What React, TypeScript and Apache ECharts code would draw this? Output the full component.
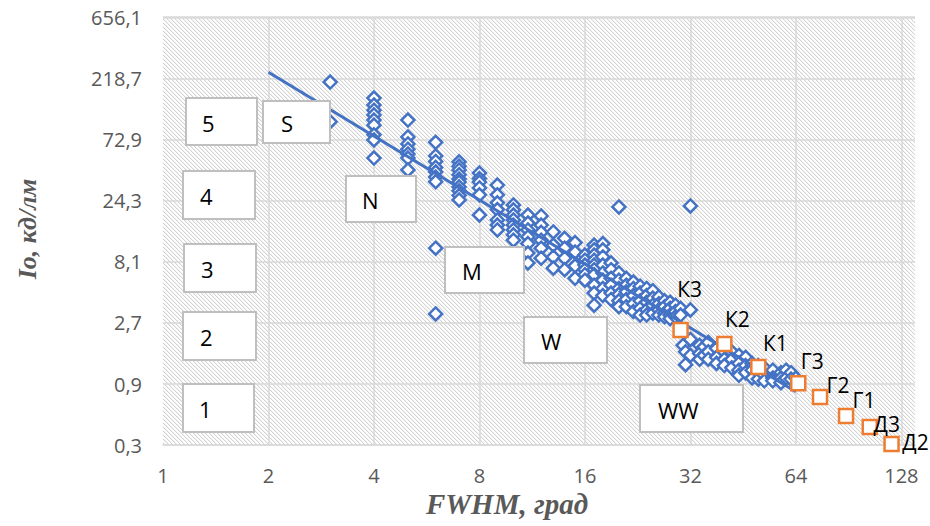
import React, { useEffect, useRef } from "react";
import * as echarts from "echarts";

// Axis bounds (log axes)
const X_MIN = 1;
const X_MAX = 140;
const Y_MIN = 0.3;
const Y_MAX = 656.1;
const yTickLabels = ["0,3", "0,9", "2,7", "8,1", "24,3", "72,9", "218,7", "656,1"];
const xTickLabels = ["1", "2", "4", "8", "16", "32", "64", "128"];

// Blue diamonds [FWHM, Io]
const zoneS: [number, number][] = [
  [3, 204], [3, 100], [4, 153], [4, 135], [4, 123], [4, 113], [4, 103], [4, 94], [4, 79], [4, 72], [4, 52],
];
const zoneN: [number, number][] = [
  [5, 103], [5, 76], [5, 67], [5, 61], [5, 56], [5, 52], [5, 42],
  [6, 69], [6, 54], [6, 49], [6, 44], [6, 40.5], [6, 37], [6, 34], [6, 10.3], [6, 3.16],
  [7, 48.6], [7, 45], [7, 42], [7, 38.6], [7, 35.7], [7, 33.8], [7, 31], [7, 28.9], [7, 26.5], [7, 24.5],
  [8, 39.7], [8, 36], [8, 33.8], [8, 30.4], [8, 26.9], [8, 18.7],
];
const zoneM: [number, number][] = [
  [9, 32], [9, 26.9], [9, 23.3], [9, 20.6], [9, 17.1], [9, 15.6], [9, 14.3],
  [10, 22.4], [10, 20.5], [10, 18.7], [10, 17.1], [10, 15.6], [10, 14.3], [10, 13.1], [10, 11.9],
  [11, 18.7], [11, 16.2], [11, 14.3], [11, 12.6], [11, 11.2], [11, 9.45], [11, 7.9],
  [12, 18.4], [12, 15.6], [12, 13.7], [12, 11.9], [12, 10.3], [12, 8.6],
  [13, 13.8], [13, 10.9], [13, 8.8], [13, 7.2],
  [14, 12.3], [14, 10.3], [14, 8.6], [14, 7.0],
  [15, 11.4], [15, 9.6], [15, 7.5], [15, 6.0],
];
const zoneW: [number, number][] = [
  [16, 9.1], [16, 8.3], [16, 7.6], [16, 7.0], [16, 6.4], [16, 5.8],
  [17, 10.9], [17, 10.0], [17, 9.1], [17, 8.3], [17, 7.6], [17, 7.0], [17, 6.4], [17, 5.3], [17, 4.6], [17, 3.7],
  [18, 11.2], [18, 10.0], [18, 8.8], [18, 7.6], [18, 6.6], [18, 5.8], [18, 5.0], [18, 4.4],
  [19, 7.9], [19, 7.0], [19, 6.0], [19, 5.3], [19, 4.6], [19, 4.1],
  [20, 21.6], [20, 6.6], [20, 5.8], [20, 5.0], [20, 4.5], [20, 4.0], [20, 3.6],
  [21, 6.0], [21, 5.3], [21, 4.7], [21, 4.1], [21, 3.6],
  [22, 5.6], [22, 5.0], [22, 4.4], [22, 3.8], [22, 3.3],
  [23, 5.2], [23, 4.6], [23, 4.0], [23, 3.5], [23, 3.1],
  [24, 5.0], [24, 4.4], [24, 3.9], [24, 3.4], [24, 3.1],
  [25, 4.8], [25, 4.2], [25, 3.7], [25, 3.2],
  [26, 4.3], [26, 3.8], [26, 3.4], [26, 3.1],
  [27, 4.0], [27, 3.6], [27, 3.2], [27, 3.0],
  [28, 3.9], [28, 3.5], [28, 3.1], [28, 2.9],
  [29, 3.7], [29, 3.3], [29, 3.0],
  [30, 3.5], [30, 3.1],
];
const zoneWW: [number, number][] = [
  [31, 1.27], [30.5, 1.8], [31, 1.6], [32, 22], [32, 3.4], [32, 2.0], [32, 1.5],
  [34, 1.8], [34, 1.55], [34, 1.4], [35, 1.75], [35, 1.5],
  [36, 1.9], [36, 1.6], [36, 1.4], [38, 1.7], [38, 1.45], [38, 1.3],
  [40, 1.75], [40, 1.6], [40, 1.4], [40, 1.25], [42, 1.6], [42, 1.4], [42, 1.2],
  [44, 1.5], [44, 1.3], [44, 1.15], [44, 1.05], [46, 1.45], [46, 1.25], [46, 1.1],
  [48, 1.3], [48, 1.15], [48, 1.0], [50, 1.25], [50, 1.1], [50, 0.98],
  [52, 1.2], [52, 1.05], [52, 0.95], [55, 1.15], [55, 1.0], [55, 0.95],
  [58, 1.1], [58, 1.0], [58, 0.92], [60, 1.15], [60, 1.0], [62, 1.1], [62, 0.98], [64, 1.0],
];

// Power trend line end points
const trendLine: [number, number][] = [[2, 243], [64, 0.78]];

// Orange squares
const orangeNames = ["К3", "К2", "К1", "Г3", "Г2", "Г1", "Д3", "Д2"];
const orangeFwhm = [30, 40, 50, 65, 75, 89, 104, 120];
const orangeIo = [2.37, 1.84, 1.22, 0.91, 0.71, 0.505, 0.414, 0.305];

// Zone boxes
const boxNames = ["5", "4", "3", "2", "1", "S", "N", "M", "W", "WW"];

// layout (pixels) for the boxes and label shifts
const boxRects = [
  [186, 98, 71, 47], [183, 171, 72, 48], [184, 244, 72, 48], [183, 312, 73, 48], [183, 384, 71, 48],
  [263, 101, 67, 42], [346, 176, 70, 46], [445, 247, 79, 46], [524, 317, 83, 46], [640, 385, 103, 47],
];
const boxTextLeft = [202, 200, 201, 200, 199, 281, 362, 462, 541, 658];
const labelShift = [[9, -41], [13, -25], [17, -24], [14, -22], [18, -12], [18, -16], [17, -3], [24, -2]];

function makeHatch(): HTMLCanvasElement {
  const c = document.createElement("canvas");
  c.width = 4;
  c.height = 4;
  const ctx = c.getContext("2d")!;
  ctx.fillStyle = "#ffffff";
  ctx.fillRect(0, 0, 4, 4);
  for (let i = 0; i < 4; i++) {
    ctx.fillStyle = "#d2d2d2";
    ctx.fillRect(i, i, 1, 1);
    ctx.fillStyle = "#f2f2f2";
    ctx.fillRect((i + 1) % 4, i, 1, 1);
  }
  return c;
}

export default function App() {
  const ref = useRef<HTMLDivElement>(null);
  useEffect(() => {
    if (!ref.current) return;
    const chart = echarts.init(ref.current, null, { renderer: "svg" });
    const hatch = makeHatch();
    const blue = [...zoneS, ...zoneN, ...zoneM, ...zoneW, ...zoneWW];
    const orangeData = orangeFwhm.map((x, i) => ({
      value: [x, orangeIo[i]],
      name: orangeNames[i],
      label: { offset: labelShift[i] },
    }));

    const graphics: any[] = [];
    boxNames.forEach((n, i) => {
      const [x, y, w, h] = boxRects[i];
      graphics.push({
        type: "rect",
        z: 100,
        shape: { x, y, width: w, height: h },
        style: { fill: "#ffffff", stroke: "#bfbfbf", lineWidth: 2 },
      });
      graphics.push({
        type: "text",
        z: 101,
        x: boxTextLeft[i],
        y: y + h / 2 + 1,
        style: {
          text: n,
          fill: "#000000",
          font: '22px "Open Sans"',
          align: "left",
          verticalAlign: "middle",
          textAlign: "left",
          textVerticalAlign: "middle",
        },
      });
    });
    graphics.push({
      type: "text",
      z: 101,
      x: 507,
      y: 504,
      style: {
        text: "FWHM, град",
        fill: "#595959",
        font: 'italic bold 29px "Liberation Serif"',
        align: "center",
        verticalAlign: "middle",
        textAlign: "center",
        textVerticalAlign: "middle",
      },
    });
    graphics.push({
      type: "text",
      z: 101,
      x: 27,
      y: 229,
      rotation: Math.PI / 2,
      style: {
        text: "Io, кд/лм",
        fill: "#595959",
        font: 'italic bold 26px "Liberation Serif"',
        align: "center",
        verticalAlign: "middle",
        textAlign: "center",
        textVerticalAlign: "middle",
      },
    });

    chart.setOption({
      animation: false,
      grid: {
        left: 163,
        right: 15,
        top: 17,
        bottom: 81,
        show: true,
        borderWidth: 0,
        backgroundColor: { image: hatch, repeat: "repeat", imageWidth: 4, imageHeight: 4 },
      },
      xAxis: {
        type: "log",
        logBase: 2,
        min: X_MIN,
        max: X_MAX,
        interval: 1,
        axisLine: { show: true, lineStyle: { color: "#d9d9d9", width: 1.5 } },
        axisTick: { show: false },
        axisLabel: {
          color: "#595959",
          fontSize: 20,
          lineHeight: 20,
          fontFamily: "Open Sans",
          margin: 20,
          showMaxLabel: false,
          formatter: (_v: number, i: number) => xTickLabels[i] ?? "",
        },
        splitLine: {
          show: true,
          showMinLine: false,
          showMaxLine: false,
          lineStyle: { color: "#d9d9d9", width: 1.5 },
        },
      },
      yAxis: {
        type: "log",
        logBase: 3,
        min: Y_MIN,
        max: Y_MAX,
        interval: 1,
        axisLine: { show: false },
        axisTick: { show: false },
        axisLabel: {
          color: "#595959",
          fontSize: 20,
          fontFamily: "Open Sans",
          margin: 21,
          formatter: (_v: number, i: number) => yTickLabels[i] ?? "",
        },
        splitLine: { show: true, lineStyle: { color: "#d9d9d9", width: 1.5 } },
      },
      series: [
        {
          type: "scatter",
          data: blue,
          symbol: "diamond",
          symbolSize: 13,
          itemStyle: { color: "#ffffff", borderColor: "#4472C4", borderWidth: 2.5, opacity: 1 },
          z: 2,
        },
        {
          type: "line",
          data: trendLine,
          symbol: "none",
          lineStyle: { color: "#4472C4", width: 3 },
          z: 3,
        },
        {
          type: "scatter",
          data: orangeData,
          symbol: "rect",
          symbolSize: 14,
          itemStyle: { color: "#ffffff", borderColor: "#ED7D31", borderWidth: 2.5, opacity: 1 },
          label: {
            show: true,
            position: "inside",
            formatter: "{b}",
            color: "#000000",
            fontSize: 21,
            fontFamily: "Open Sans",
          },
          z: 4,
        },
      ],
      graphic: graphics,
    });
    return () => chart.dispose();
  }, []);
  return (
    <div
      ref={ref}
      style={{ position: "absolute", left: 0, top: 0, width: 930, height: 526 }}
    />
  );
}
